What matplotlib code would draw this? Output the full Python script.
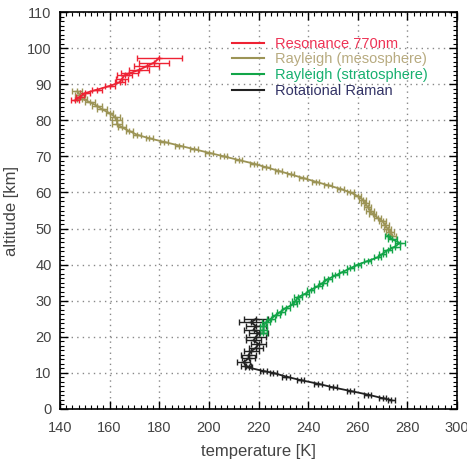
import numpy as np
import matplotlib
matplotlib.use('Agg')
import matplotlib.pyplot as plt
from matplotlib.ticker import MultipleLocator

plt.rcParams['font.family'] = ['Liberation Sans', 'DejaVu Sans']

# resonance 770nm (temperature K, altitude km, temperature error K)
resT   = [146, 148, 150, 155, 160, 164, 165, 166, 168, 172, 175, 178, 180]
resAlt = [85.5, 86.5, 87.5, 88.5, 89.5, 90.5, 91.5, 92.5, 93, 94, 95, 96, 97.3]
resErr = [1.5, 1.5, 2, 2, 2, 2, 2.5, 3, 3.5, 4, 5, 6, 9]

# rayleigh mesosphere
mesT   = [147, 148, 149, 152, 155, 157, 160, 162, 163, 163, 165, 168, 171, 176, 182, 188,
          194, 200, 206, 212, 218, 223, 228, 233, 238, 243, 248, 253, 257, 260, 262, 263,
          264, 265, 266, 268, 270, 271, 272, 273, 274]
mesAlt = [88, 87, 86, 85, 84, 83, 82, 81, 80, 79, 78, 77, 76, 75, 74, 73,
          72, 71, 70, 69, 68, 67, 66, 65, 64, 63, 62, 61, 60, 59, 58, 57,
          56, 55, 54, 53, 52, 51, 50, 49, 48]
mesErr = [2, 2, 2, 2, 2, 2, 1.5, 2, 2, 2, 1.5, 1.5, 1.5, 1.5, 1.5, 1.5,
          1.5, 1.5, 1.5, 1.5, 1.5, 1.5, 1.5, 1.5, 1.5, 1.5, 1.5, 1.5, 1.5, 1.5, 1.5, 1.5,
          1.5, 1.5, 1.5, 1.5, 1.5, 1.5, 1.5, 1.5, 1.5]

# rayleigh stratosphere
strT   = [272, 274, 277, 275, 272, 270, 268, 264, 260, 257, 254, 251, 248, 246, 244, 241,
          239, 236, 235, 234, 231, 229, 227, 225, 223, 222, 222, 222]
strAlt = [48, 47, 46, 45, 44, 43, 42, 41, 40, 39, 38, 37, 36, 35, 34, 33,
          32, 31, 30, 29, 28, 27, 26, 25, 24, 23, 22, 21]
strErr = [1, 2, 2, 2, 2, 1.5, 1.5, 1.5, 1.5, 1.5, 1.5, 1.5, 1.5, 1.5, 1.5, 1.5,
          1.5, 1.5, 1.5, 1.5, 1.5, 1.5, 1.5, 1.5, 1.5, 1.5, 1.5, 1.5]

# rotational raman
ramT   = [219, 217, 219, 218, 220, 219, 218, 220, 219, 217, 216, 216, 214, 215, 216, 222,
          226, 231, 237, 244, 250, 257, 264, 270, 273.5]
ramAlt = [25, 24, 23, 22, 21, 20, 19, 18, 17, 16, 15, 14, 13, 12, 11.5, 10.5,
          10, 9, 8, 7, 6, 5, 4, 3, 2.5]
ramErr = [5, 5, 4, 4, 4, 4, 3, 3, 3, 3, 3, 2.5, 2.5, 2, 1.5, 1.5,
          1.5, 1.5, 1.5, 1.5, 1.5, 1.5, 1.5, 1.5, 1.5]

series = [
  (ramT, ramAlt, ramErr, '#222222', 'Rotational Raman'),
  (mesT, mesAlt, mesErr, '#9c9456', 'Rayleigh (mesosphere)'),
  (strT, strAlt, strErr, '#12a548', 'Rayleigh (stratosphere)'),
  (resT, resAlt, resErr, '#ee2233', 'Resonance 770nm'),
]

fig=plt.figure(figsize=(4.67,4.67), dpi=100)
ax=fig.add_axes([60/467, 58/467, 397/467, 397/467])

handles={}
for T, alt, err, col, lab in series:
  ax.errorbar(T, alt, xerr=err, color=col, lw=1.3, elinewidth=1.0, capsize=2.5,
              marker='+', ms=5, mew=1.0)
  h,=ax.plot([], [], color=col, lw=1.5, label=lab)
  handles[lab]=h

order=['Resonance 770nm','Rayleigh (mesosphere)','Rayleigh (stratosphere)','Rotational Raman']
leg=ax.legend([handles[k] for k in order], order, loc='upper left', bbox_to_anchor=(0.41, 0.96),
              frameon=False, fontsize=10.5, handlelength=2.2, handletextpad=0.8,
              labelspacing=0.12, borderaxespad=0.2)
textCols=['#ee3355','#b8ab80','#18b070','#333366']
for t,c in zip(leg.get_texts(), textCols):
  t.set_color(c)

ax.set_xlim(140,300)
ax.set_ylim(0,110)
ax.xaxis.set_major_locator(MultipleLocator(20))
ax.xaxis.set_minor_locator(MultipleLocator(2.5))
ax.yaxis.set_major_locator(MultipleLocator(10))
ax.yaxis.set_minor_locator(MultipleLocator(1.25))
ax.tick_params(which='both', direction='in', top=True, right=True, labelsize=10.5, labelcolor='#444444')
ax.tick_params(which='major', length=6, width=1)
ax.tick_params(which='minor', length=3, width=0.8)
ax.tick_params(axis='x', which='major', pad=9)
ax.tick_params(axis='y', which='major', pad=6)
ax.grid(True, which='major', color='#888888', linestyle=(0,(1,3)), lw=1)
for s in ax.spines.values():
  s.set_linewidth(1.2)

ax.set_xlabel('temperature [K]', fontsize=12, color='#444444', labelpad=6)
ax.set_ylabel('altitude [km]', fontsize=12, color='#444444', labelpad=6)

fig.savefig('out.png', dpi=100)
